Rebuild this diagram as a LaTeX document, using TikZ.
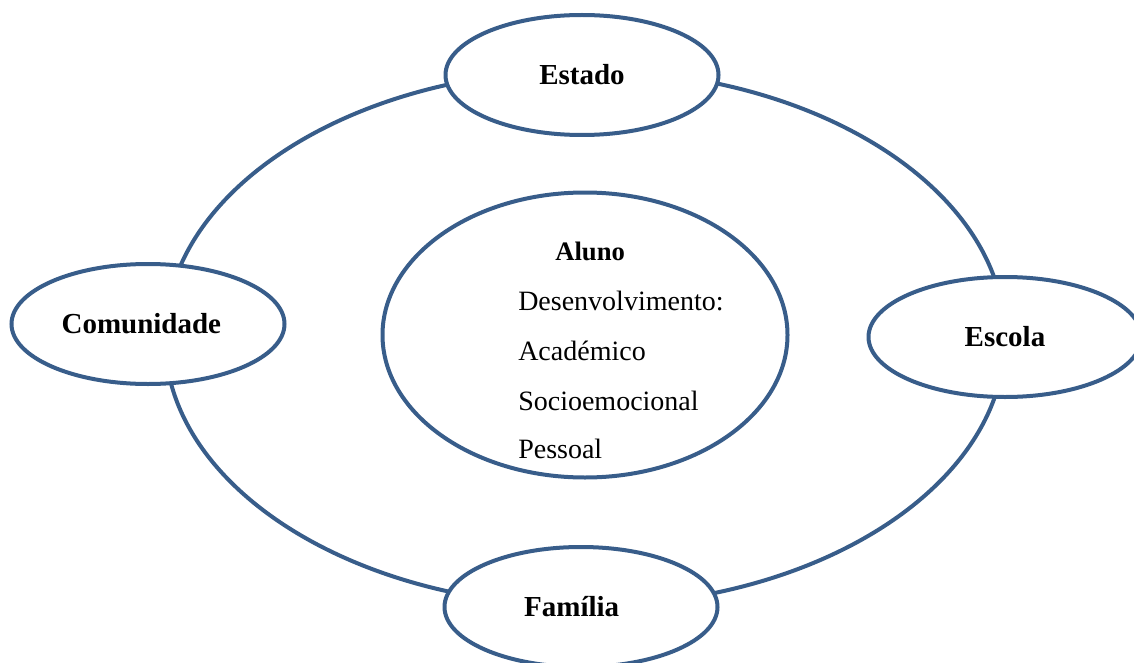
\documentclass[tikz,border=0pt]{standalone}
\usepackage{fontspec}
\setmainfont{Liberation Serif}
\usetikzlibrary{shapes.geometric}
\definecolor{ringblue}{HTML}{385D8A}
\begin{document}
\begin{tikzpicture}[x=0.75pt,y=-0.75pt,
  ringshape/.style={draw=ringblue, line width=3pt, ellipse, inner sep=0pt},
  actor/.style={ringshape, fill=white, minimum width=204.75pt, minimum height=90pt,
    font=\bfseries\fontsize{21.75}{26}\selectfont},
  body/.style={anchor=base west, inner sep=0pt, font=\fontsize{21}{25}\selectfont}]
\useasboundingbox (0,0) rectangle (1134,663);
% outer cycle
\node[ringshape, minimum width=630pt, minimum height=402pt] (cycle) at (585,338) {};
% actors
\node[actor] (estado) at (582,75) {Estado};
\node[actor] (comunidade) at (148,324) {\hspace*{-10pt}Comunidade};
\node[actor] (escola) at (1005,337) {Escola};
\node[actor] (familia) at (581,607) {\hspace*{-14pt}Família};
% inner ellipse
\node[ringshape, minimum width=303.75pt, minimum height=213.75pt] (aluno) at (585,335) {};
\node[body, font=\bfseries\fontsize{20}{24}\selectfont] (t0) at (555,260) {Aluno};
\node[body] (t1) at (518,310) {Desenvolvimento:};
\node[body] (t2) at (518,360) {Académico};
\node[body] (t3) at (518,410) {Socioemocional};
\node[body] (t4) at (518,458) {Pessoal};
\end{tikzpicture}
\end{document}
